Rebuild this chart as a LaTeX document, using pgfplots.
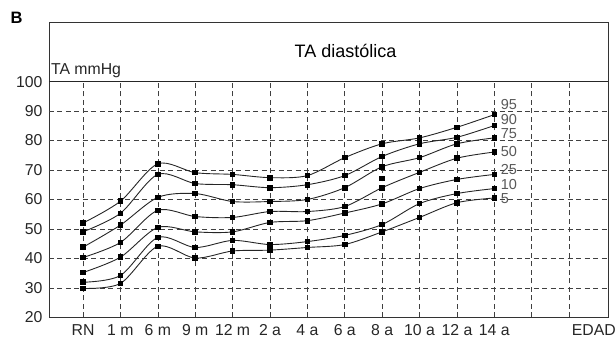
\documentclass[border=0pt]{standalone}
\usepackage{fontspec}
\setmainfont{Liberation Sans}
\usepackage{pgfplots}
\pgfplotsset{compat=1.18}
\begin{document}
\begin{tikzpicture}
\path[use as bounding box] (-49pt,-24.7pt) rectangle (567pt,317.3pt);
\begin{axis}[
  name=ax,
  at={(0,0)}, anchor=south west,
  width=559pt, height=294.6pt, scale only axis,
  xmin=-0.91, xmax=14.04, ymin=20, ymax=120,
  axis line style={black!80, line width=0.8pt},
  ytick={20,30,...,100},
  xtick={0,...,11,13.66},
  xticklabels={RN,1 m,6 m,9 m,12 m,2 a,4 a,6 a,8 a,10 a,12 a,14 a,EDAD},
  major tick length=0pt,
  tick label style={font=\fontsize{15.8}{18}\selectfont, text=black!85},
  yticklabel style={xshift=-3pt},
  xticklabel style={yshift=-3.5pt},
  /pgf/number format/assume math mode=true,
  clip=false,
  pct/.style={smooth, color=black!85, line width=0.9pt, mark=square*, mark size=2.3pt, mark options={solid, fill=black, draw=black}},
]
% grid
\pgfplotsinvokeforeach{0,...,13}{\draw[black!75, line width=0.6pt, dash pattern=on 5pt off 3.5pt] (axis cs:#1,20) -- (axis cs:#1,100);}
\pgfplotsinvokeforeach{30,40,...,90}{\draw[black!75, line width=0.6pt, dash pattern=on 5pt off 3.5pt] (axis cs:-0.91,#1) -- (axis cs:14.04,#1);}
\draw[black!85, line width=0.8pt] (axis cs:-0.91,100) -- (axis cs:14.04,100);

% P95
\addplot[pct] coordinates {(0,52) (1,59.4) (2,72.1) (3,69.1) (4,68.5) (5,67.4) (6,68.1) (7,74.2) (8,78.9) (9,80.9) (10,84.5) (11,88.8)};
% P90
\addplot[pct] coordinates {(0,49) (1,55.3) (2,68.5) (3,65.4) (4,65.0) (5,64.0) (6,65.0) (7,68.1) (8,74.6) (9,78.9) (10,81.1) (11,85.1)};
% P75
\addplot[pct] coordinates {(0,43.8) (1,51.3) (2,60.7) (3,62.0) (4,59.3) (5,59.3) (6,60.0) (7,64.0) (8,71.1) (9,74.2) (10,78.9) (11,80.9)};
% P50
\addplot[pct] coordinates {(0,40.3) (1,45.4) (2,56.3) (3,54.2) (4,53.9) (5,55.9) (6,55.9) (7,57.6) (8,64.0) (9,69.2) (10,74.0) (11,76.1)};
% P25
\addplot[pct] coordinates {(0,35.2) (1,40.4) (2,50.5) (3,49.0) (4,49.0) (5,52.2) (6,52.8) (7,55.4) (8,58.5) (9,63.7) (10,66.8) (11,68.5)};
% P10
\addplot[pct] coordinates {(0,31.9) (1,34.2) (2,47.1) (3,43.7) (4,46.1) (5,44.7) (6,45.7) (7,47.8) (8,51.5) (9,58.6) (10,62.0) (11,63.7)};
% P5
\addplot[pct] coordinates {(0,29.8) (1,31.5) (2,44.1) (3,40.1) (4,42.5) (5,42.8) (6,43.7) (7,44.7) (8,49.0) (9,53.9) (10,58.9) (11,60.5)};
% stray marker
\addplot[pct, only marks] coordinates {(8,67.1)};

% percentile labels
\begin{scope}[every node/.style={anchor=west, inner sep=0pt, text=black!65, font=\fontsize{14.5}{14.5}\selectfont}]
\node at (axis cs:11.17,92.1) {95};
\node at (axis cs:11.17,87.1) {90};
\node at (axis cs:11.17,82.4) {75};
\node at (axis cs:11.17,76.3) {50};
\node at (axis cs:11.17,70.0) {25};
\node at (axis cs:11.17,65.1) {10};
\node at (axis cs:11.17,60.2) {5};
\end{scope}

\node[font=\fontsize{18}{20}\selectfont] at (axis cs:7.02,110.5) {TA diastólica};
\node[anchor=west, inner sep=0pt, font=\fontsize{15.8}{18}\selectfont, text=black!85] at (axis cs:-0.86,103.7) {TA mmHg};
\end{axis}
\node[font=\bfseries\fontsize{16.5}{18}\selectfont, inner sep=0pt] at (-32.5pt,299.8pt) {B};
\end{tikzpicture}
\end{document}
